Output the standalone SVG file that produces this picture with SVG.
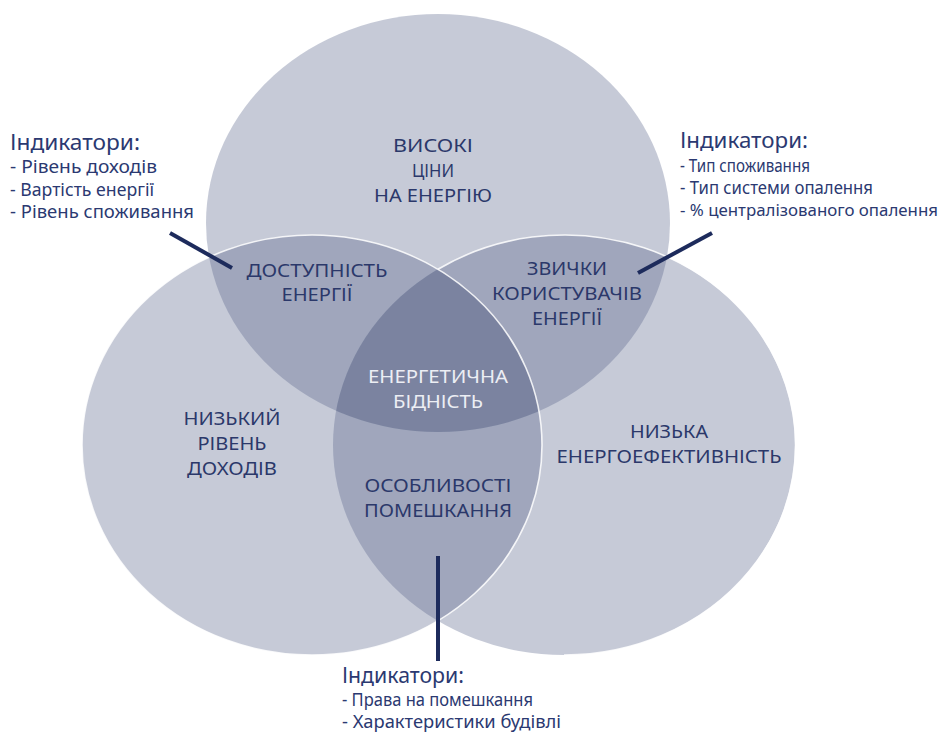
<svg xmlns="http://www.w3.org/2000/svg" width="947" height="740" viewBox="0 0 947 740">
<style>
.c{fill:#525e86;fill-opacity:0.33}
.ws{fill:none;stroke:#ffffff;stroke-width:1.6;stroke-opacity:0.85}
.lb{font-family:"Noto Sans","Open Sans","Liberation Sans",sans-serif;font-size:18.5px;fill:#2b386a;text-anchor:middle}
.wt{fill:#eceef4}
.ih{font-family:"Noto Sans","Open Sans","Liberation Sans",sans-serif;font-size:21px;fill:#2b3971}
.it{font-family:"Noto Sans","Open Sans","Liberation Sans",sans-serif;font-size:18px;fill:#2b3971}
.sm{font-size:16.5px}
.cn{stroke:#1d2b5c;stroke-width:4;fill:none}
</style>
<defs>
<clipPath id="clipTop"><ellipse cx="438" cy="223" rx="232" ry="209"/></clipPath>
<clipPath id="clipRight"><ellipse cx="564" cy="445" rx="231" ry="210"/></clipPath>
</defs>
<rect width="947" height="740" fill="#ffffff"/>
<g id="circle-high-prices">
<ellipse class="c" cx="438" cy="223" rx="232" ry="209"/>
<text class="lb" x="433" y="152" textLength="80" lengthAdjust="spacingAndGlyphs">ВИСОКІ</text>
<text class="lb" x="433" y="177" textLength="42" lengthAdjust="spacingAndGlyphs">ЦІНИ</text>
<text class="lb" x="433" y="202" textLength="118" lengthAdjust="spacingAndGlyphs">НА ЕНЕРГІЮ</text>
</g>
<g id="circle-low-efficiency">
<ellipse class="c" cx="564" cy="445" rx="231" ry="210"/>
<path class="ws" d="M438,269.3 A231,210 0 1,1 564,655"/>
<text class="lb" x="669" y="438" textLength="78" lengthAdjust="spacingAndGlyphs">НИЗЬКА</text>
<text class="lb" x="669" y="463" textLength="225" lengthAdjust="spacingAndGlyphs">ЕНЕРГОЕФЕКТИВНІСТЬ</text>
</g>
<g id="circle-low-income">
<ellipse class="c" cx="312" cy="445" rx="230" ry="210"/>
<g clip-path="url(#clipTop)"><ellipse cx="312" cy="445" rx="230" ry="210" fill="#1d2750" fill-opacity="0.1" clip-path="url(#clipRight)"/></g>
<ellipse class="ws" cx="312" cy="445" rx="230" ry="210"/>
<text class="lb" x="232" y="425" textLength="97" lengthAdjust="spacingAndGlyphs">НИЗЬКИЙ</text>
<text class="lb" x="232" y="450" textLength="69" lengthAdjust="spacingAndGlyphs">РІВЕНЬ</text>
<text class="lb" x="232" y="475" textLength="90" lengthAdjust="spacingAndGlyphs">ДОХОДІВ</text>
</g>
<g id="lens-affordability">
<text class="lb" x="317" y="277" textLength="141" lengthAdjust="spacingAndGlyphs">ДОСТУПНІСТЬ</text>
<text class="lb" x="317" y="301" textLength="71" lengthAdjust="spacingAndGlyphs">ЕНЕРГІЇ</text>
</g>
<g id="lens-habits">
<text class="lb" x="567" y="275" textLength="80" lengthAdjust="spacingAndGlyphs">ЗВИЧКИ</text>
<text class="lb" x="567" y="300" textLength="150" lengthAdjust="spacingAndGlyphs">КОРИСТУВАЧІВ</text>
<text class="lb" x="567" y="325" textLength="70" lengthAdjust="spacingAndGlyphs">ЕНЕРГІЇ</text>
</g>
<g id="lens-dwelling">
<text class="lb" x="438" y="492" textLength="147" lengthAdjust="spacingAndGlyphs">ОСОБЛИВОСТІ</text>
<text class="lb" x="438" y="517" textLength="148" lengthAdjust="spacingAndGlyphs">ПОМЕШКАННЯ</text>
</g>
<g id="center-energy-poverty">
<text class="lb wt" x="438" y="383" textLength="140" lengthAdjust="spacingAndGlyphs">ЕНЕРГЕТИЧНА</text>
<text class="lb wt" x="438" y="408" textLength="90" lengthAdjust="spacingAndGlyphs">БІДНІСТЬ</text>
</g>
<g id="connectors">
<line class="cn" x1="170" y1="233" x2="232" y2="268"/>
<line class="cn" x1="712" y1="233" x2="638" y2="273"/>
<line class="cn" x1="438" y1="556" x2="438" y2="661"/>
</g>
<g id="indicators-left">
<text class="ih" x="10" y="150" textLength="130" lengthAdjust="spacingAndGlyphs">Індикатори:</text>
<text class="it" x="10" y="173" textLength="147" lengthAdjust="spacingAndGlyphs">- Рівень доходів</text>
<text class="it" x="10" y="196" textLength="144" lengthAdjust="spacingAndGlyphs">- Вартість енергії</text>
<text class="it" x="10" y="218" textLength="184" lengthAdjust="spacingAndGlyphs">- Рівень споживання</text>
</g>
<g id="indicators-right">
<text class="ih" x="680" y="148" textLength="128" lengthAdjust="spacingAndGlyphs">Індикатори:</text>
<text class="it" x="680" y="172" textLength="130" lengthAdjust="spacingAndGlyphs">- Тип споживання</text>
<text class="it" x="680" y="194" textLength="193" lengthAdjust="spacingAndGlyphs">- Тип системи опалення</text>
<text class="it sm" x="680" y="216" textLength="258" lengthAdjust="spacingAndGlyphs">- % централізованого опалення</text>
</g>
<g id="indicators-bottom">
<text class="ih" x="342" y="683" textLength="122" lengthAdjust="spacingAndGlyphs">Індикатори:</text>
<text class="it" x="342" y="706" textLength="191" lengthAdjust="spacingAndGlyphs">- Права на помешкання</text>
<text class="it" x="342" y="728" textLength="219" lengthAdjust="spacingAndGlyphs">- Характеристики будівлі</text>
</g>
</svg>
